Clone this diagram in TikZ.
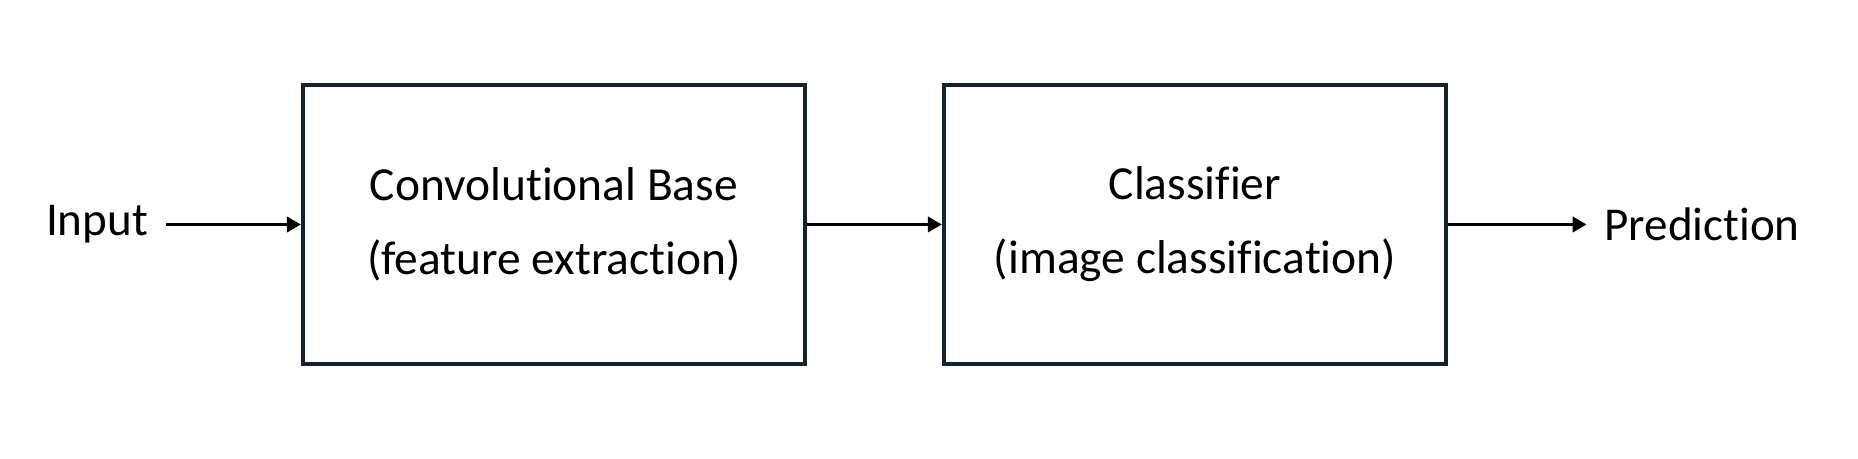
\documentclass[tikz,border=0pt]{standalone}
\usepackage{fontspec}
\setmainfont[Ligatures=NoCommon]{Carlito}
\usetikzlibrary{arrows.meta}
\definecolor{boxline}{HTML}{13222F}
\begin{document}
\begin{tikzpicture}[x=1cm,y=1cm,
  blockbox/.style={draw=boxline, line width=1.15pt, minimum width=5.02cm, minimum height=2.79cm, align=center, inner sep=0pt, font=\fontsize{13.5}{21}\selectfont},
  lbl/.style={inner sep=0pt, font=\fontsize{13.4}{16}\selectfont},
  conn/.style={line width=1.05pt, -{Triangle[length=0.14cm,width=0.15cm]}}]
\useasboundingbox (0,0) rectangle (18.58,4.58);
\node[lbl] (in) at (0.97,2.335) {Input};
\node[blockbox] (b1) at (5.54,2.335) {Convolutional Base\\(feature extraction)};
\node[blockbox] (b2) at (11.95,2.335) {Classifier\\(image classification)};
\node[lbl] (out) at (17.02,2.335) {Prediction};
\draw[conn] (in.east) ++(0.17,0) coordinate (s1) (s1) -- (b1.west);
\draw[conn] (b1.east) -- (b2.west);
\draw[conn, shorten >=0.17cm] (b2.east) -- (out.west);
\end{tikzpicture}
\end{document}
